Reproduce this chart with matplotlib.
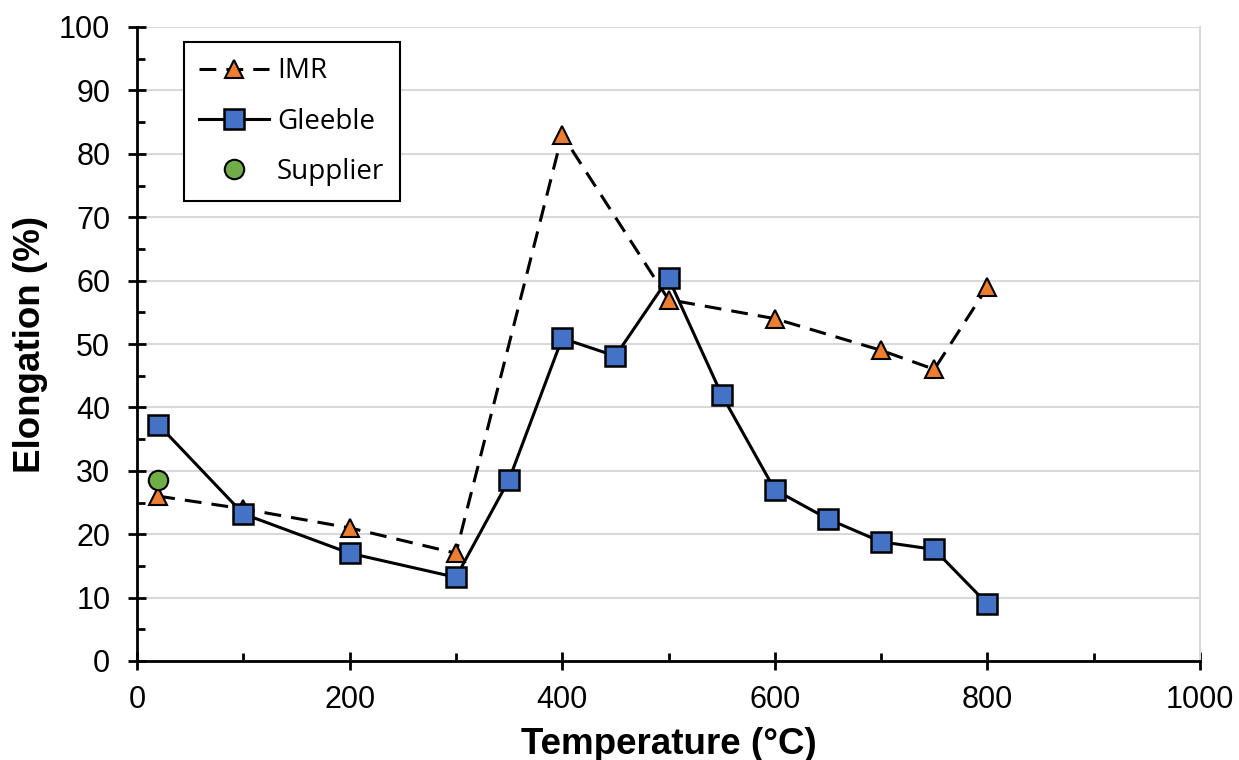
import matplotlib.pyplot as plt
from matplotlib.ticker import MultipleLocator

# data
imr_temp = [20, 100, 200, 300, 400, 500, 600, 700, 750, 800]
imr_elong = [26, 24, 21, 17, 83, 57, 54, 49, 46, 59]

gleeble_temp = [20, 100, 200, 300, 350, 400, 450, 500, 550, 600, 650, 700, 750, 800]
gleeble_elong = [37.3, 23.2, 17.0, 13.2, 28.6, 50.9, 48.1, 60.4, 42.0, 27.0, 22.4, 18.8, 17.6, 9.0]

supplier_temp = [20]
supplier_elong = [28.6]

plt.rcParams['font.family'] = ['Liberation Sans', 'DejaVu Sans']

fig = plt.figure(figsize=(12.39, 7.6), dpi=100)
ax = fig.add_axes([137 / 1239, 1 - 661 / 760, (1200 - 137) / 1239, (661 - 27) / 760])

ax.plot(imr_temp, imr_elong, '--', color='black', lw=2.2, dashes=(5.5, 3.3),
        marker='^', ms=13, mfc='#ED7D31', mec='black', mew=1.5, label='IMR', zorder=3)
ax.plot(gleeble_temp, gleeble_elong, '-', color='black', lw=2.2,
        marker='s', ms=15, mfc='#4472C4', mec='black', mew=1.8, label='Gleeble', zorder=4)
ax.plot(supplier_temp, supplier_elong, 'o', ms=14, mfc='#70AD47', mec='black', mew=1.5,
        label='Supplier', zorder=5)

ax.set_xlim(0, 1000)
ax.set_ylim(0, 100)
ax.xaxis.set_major_locator(MultipleLocator(200))
ax.xaxis.set_minor_locator(MultipleLocator(100))
ax.yaxis.set_major_locator(MultipleLocator(10))
ax.yaxis.set_minor_locator(MultipleLocator(5))
ax.tick_params(which='major', direction='inout', length=12.5, width=2, labelsize=22)
ax.tick_params(axis='x', which='major', pad=11)
ax.tick_params(axis='y', which='major', pad=13)
ax.tick_params(which='minor', direction='in', length=6, width=2)

ax.grid(axis='y', which='major', color='#D9D9D9', lw=1.5)
for s in ['left', 'bottom']:
    ax.spines[s].set_linewidth(2)
ax.spines['top'].set_visible(False)
ax.spines['right'].set_color('#D9D9D9')
ax.spines['right'].set_linewidth(1.5)

ax.set_xlabel('Temperature (°C)', fontsize=26.5, fontweight='bold')
ax.set_ylabel('Elongation (%)', fontsize=26.5, fontweight='bold')
ax.xaxis.set_label_coords(0.5, -0.104)
ax.yaxis.set_label_coords(-0.084, 0.5)

leg = ax.legend(loc='upper left', bbox_to_anchor=(0.0442, 0.976),
                prop={'family': ['Open Sans', 'DejaVu Sans'], 'size': 20},
                frameon=True, fancybox=False, edgecolor='black', handlelength=2.5,
                labelspacing=0.8, borderpad=0.55, handletextpad=0.3, borderaxespad=0)
leg.get_frame().set_linewidth(1.5)
leg.get_frame().set_alpha(1)

fig.savefig('out.png', dpi=100)
